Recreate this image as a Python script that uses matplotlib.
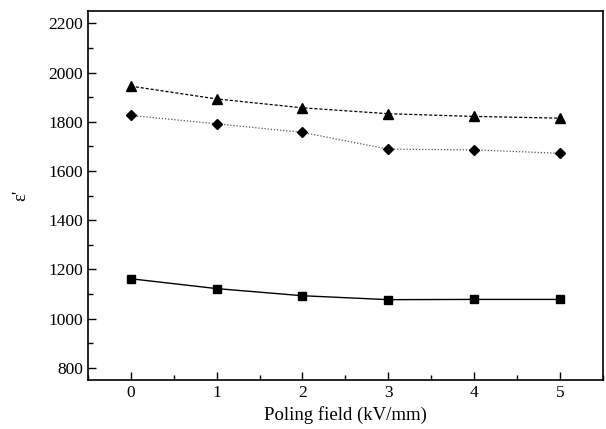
import matplotlib
matplotlib.use("Agg")
import matplotlib.pyplot as plt
from matplotlib.ticker import MultipleLocator

plt.rcParams['font.family'] = ['Liberation Serif', 'DejaVu Serif']

field = [0, 1, 2, 3, 4, 5]
eps_triangle = [1945, 1893, 1857, 1833, 1822, 1815]
eps_diamond = [1826, 1792, 1757, 1689, 1686, 1672]
eps_square = [1162, 1122, 1093, 1077, 1078, 1078]

fig = plt.figure(figsize=(6.06, 4.29), dpi=100)
ax = fig.add_axes([0.145, 0.114, 0.85, 0.86])

ax.plot(field, eps_triangle, color='black', linestyle=(0, (2.5, 1.5)), linewidth=0.9,
        marker='^', markersize=7)
ax.plot(field, eps_diamond, color='#555555', linestyle=(0, (1, 1.5)), linewidth=0.9,
        marker='D', markersize=5.5, markerfacecolor='black', markeredgecolor='black')
ax.plot(field, eps_square, color='black', linestyle='-', linewidth=1.0,
        marker='s', markersize=6)

ax.set_xlim(-0.5, 5.5)
ax.set_ylim(750, 2250)
ax.set_xticks(field)
ax.set_yticks([800, 1000, 1200, 1400, 1600, 1800, 2000, 2200])
ax.xaxis.set_minor_locator(MultipleLocator(0.5))
ax.yaxis.set_minor_locator(MultipleLocator(100))
ax.tick_params(which='both', direction='in', top=False, right=False, labelsize=12.5, width=1)
ax.tick_params(which='major', length=6)
ax.tick_params(which='minor', length=3.5)
for s in ax.spines.values():
    s.set_linewidth(1.2)

ax.set_xlabel('Poling field (kV/mm)', fontsize=13.5, labelpad=4)
ax.set_ylabel("ε'", fontsize=13.5, labelpad=14)

fig.savefig('out.png', dpi=100)
